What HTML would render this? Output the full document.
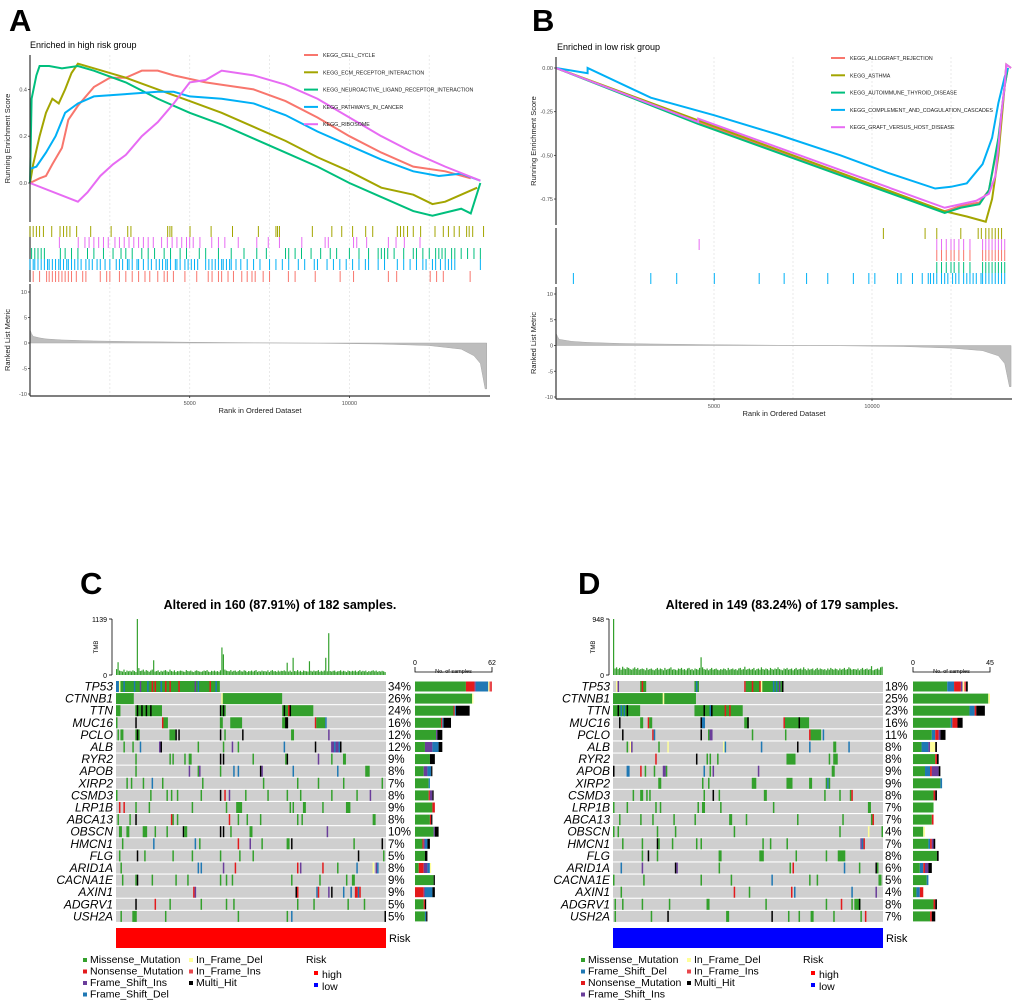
<!DOCTYPE html>
<html><head><meta charset="utf-8">
<style>
html,body{margin:0;padding:0;background:#fff;}
svg{display:block;font-family:"Liberation Sans",Arial,sans-serif;}
</style></head>
<body>
<svg id="fig" width="1020" height="1008" viewBox="0 0 1020 1008">
<rect width="1020" height="1008" fill="#fff"/>
<text x="9" y="31" font-size="31" font-weight="bold">A</text>
<text x="532" y="31" font-size="31" font-weight="bold">B</text>
<text x="80" y="594" font-size="31" font-weight="bold">C</text>
<text x="578" y="594" font-size="31" font-weight="bold">D</text>
<text x="30" y="48" font-size="9">Enriched in high risk group</text>
<text x="557" y="50" font-size="9">Enriched in low risk group</text>
<text x="280" y="609" font-size="12.5" font-weight="bold" text-anchor="middle">Altered in 160 (87.91%) of 182 samples.</text>
<text x="782" y="609" font-size="12.5" font-weight="bold" text-anchor="middle">Altered in 149 (83.24%) of 179 samples.</text>
<g id="root"></g>
</svg>
<script>
// ---------- GSEA data (ranks in thousands) ----------
const aNames=["KEGG_CELL_CYCLE","KEGG_ECM_RECEPTOR_INTERACTION","KEGG_NEUROACTIVE_LIGAND_RECEPTOR_INTERACTION","KEGG_PATHWAYS_IN_CANCER","KEGG_RIBOSOME"];
const aColors=["#F8766D","#A3A500","#00BF7D","#00B0F6","#E76BF3"];
const aRed=[[0,0],[0.3,0.02],[0.5,0.03],[0.7,0.08],[1.0,0.15],[1.2,0.27],[1.5,0.33],[2.0,0.41],[2.5,0.45],[3.0,0.45],[3.5,0.48],[4.0,0.48],[4.5,0.46],[5.5,0.43],[6.0,0.42],[7.0,0.40],[8.0,0.35],[9.0,0.28],[10.0,0.20],[11.0,0.13],[12.0,0.07],[13.0,0.05],[13.8,0.02]];
const aOlive=[[0,0],[0.1,0.08],[0.3,0.2],[0.5,0.3],[0.7,0.36],[0.9,0.34],[1.1,0.4],[1.3,0.47],[1.5,0.51],[2.0,0.49],[3.0,0.45],[4.0,0.40],[5.0,0.35],[6.0,0.30],[7.0,0.24],[8.0,0.18],[9.0,0.11],[10.0,0.05],[11.0,-0.02],[12.0,-0.05],[12.6,-0.09],[13.0,-0.08],[13.5,-0.05],[14.0,-0.02]];
const aGreen=[[0,0],[0.05,0.36],[0.2,0.46],[0.3,0.5],[0.6,0.5],[1.0,0.49],[1.5,0.5],[2.0,0.48],[3.0,0.43],[4.0,0.36],[5.0,0.3],[6.0,0.25],[7.0,0.19],[8.0,0.13],[9.0,0.07],[10.0,0.0],[11.0,-0.06],[12.0,-0.12],[12.6,-0.14],[13.5,-0.11],[13.8,-0.13],[14.1,0.0]];
const aBlue=[[0,0.06],[0.2,0.07],[0.5,0.13],[0.8,0.2],[1.1,0.3],[1.5,0.34],[2.0,0.37],[3.0,0.38],[4.0,0.39],[4.5,0.39],[5.0,0.37],[6.0,0.36],[7.0,0.34],[8.0,0.29],[9.0,0.22],[10.0,0.16],[11.0,0.1],[12.0,0.05],[12.8,0.03],[13.5,0.04],[14.1,0.01]];
const aMag=[[0,0],[1.5,-0.08],[1.8,-0.04],[2.2,0.03],[2.6,0.08],[3.0,0.12],[3.5,0.2],[4.0,0.26],[4.5,0.34],[5.0,0.43],[5.5,0.44],[6.0,0.48],[7.0,0.46],[8.0,0.42],[9.0,0.36],[10.0,0.28],[11.0,0.2],[12.0,0.13],[13.0,0.07],[14.1,0.01]];
const aHitOlive=[0,0.1,0.2,0.3,0.42,0.68,0.94,1.05,1.15,1.25,1.46,1.9,2.54,3.06,3.16,4.31,4.38,4.44,5.01,5.67,6.34,7.15,7.7,7.75,7.81,8.84,9.45,9.76,10.1,10.51,10.73,11.5,11.6,11.7,11.82,12.0,12.23,12.68,12.94,13.1,13.28,13.44,13.67,13.75,13.86,14.2];
const aHitMag=[0.92,1.51,1.72,1.85,2.0,2.15,2.3,2.45,2.66,2.8,2.95,3.1,3.25,3.4,3.55,3.7,3.86,4.12,4.3,4.45,4.6,4.75,4.9,5.0,5.11,5.32,5.69,5.9,6.1,6.52,7.1,7.46,7.81,8.51,9.24,9.34,10.13,10.23,10.54,11.22,11.46,11.72,12.21];
const aHitGreen=[0.05,0.15,0.25,0.35,0.45,0.95,1.1,1.3,1.5,1.8,2.0,2.3,2.6,2.85,3.0,3.2,3.5,3.7,3.9,4.2,4.4,4.7,4.9,5.3,5.5,5.9,6.3,6.7,7.1,7.4,8.0,8.1,8.3,8.5,8.8,9.1,9.4,9.6,10.0,10.3,10.6,10.9,11.0,11.1,11.2,11.4,11.7,12.0,12.1,12.3,12.5,12.7,12.8,12.9,13.0,13.2,13.3,13.5,13.7,13.9,14.1];
const aHitBlue=[0.0,0.1,0.15,0.25,0.35,0.45,0.55,0.6,0.7,0.8,0.9,0.95,1.05,1.15,1.2,1.3,1.4,1.5,1.6,1.75,1.85,1.95,2.1,2.2,2.35,2.5,2.7,2.8,2.9,3.05,3.1,3.2,3.35,3.4,3.55,3.7,3.8,3.95,4.05,4.15,4.25,4.3,4.4,4.55,4.6,4.7,4.85,4.95,5.05,5.15,5.25,5.5,5.6,5.7,5.8,5.9,6.0,6.05,6.15,6.25,6.3,6.45,6.6,6.8,7.0,7.2,7.5,7.7,7.9,8.1,8.4,8.6,8.9,9.0,9.3,9.5,9.7,9.9,10.1,10.3,10.5,10.6,10.9,11.1,11.5,11.7,11.9,12.1,12.3,12.4,12.6,12.7,12.85,13.0,13.1,13.2,13.3,14.1];
const aHitRed=[0.1,0.3,0.52,0.6,0.7,0.8,0.9,1.0,1.1,1.2,1.3,1.45,1.65,1.75,2.2,2.4,2.5,2.8,3.0,3.2,3.4,3.6,3.75,4.0,4.2,4.3,4.49,4.85,5.22,5.58,5.7,5.9,6.0,6.2,6.37,6.63,6.8,6.95,7.05,7.3,7.5,8.09,8.3,8.93,9.71,10.13,11.22,11.48,12.53,12.73,12.94,13.78];
const metricRanksA=[0,0.05,0.1,0.3,0.5,1,2,3,5,7,9,11,12.5,13.5,13.9,14.1,14.25,14.3];
const metricValsA=[2.6,1.8,1.3,1.0,0.8,0.6,0.4,0.3,0.15,0.05,-0.05,-0.2,-0.5,-1.2,-2.5,-4,-9,-9];

const bNames=["KEGG_ALLOGRAFT_REJECTION","KEGG_ASTHMA","KEGG_AUTOIMMUNE_THYROID_DISEASE","KEGG_COMPLEMENT_AND_COAGULATION_CASCADES","KEGG_GRAFT_VERSUS_HOST_DISEASE"];
const bRed=[[0,0],[4.5,-0.31],[12.3,-0.82],[12.8,-0.79],[13.4,-0.77],[13.7,-0.7],[14.0,-0.42],[14.2,-0.1],[14.3,0.0]];
const bOlive=[[0,0],[12.3,-0.82],[13.0,-0.85],[13.6,-0.88],[13.8,-0.75],[14.0,-0.5],[14.2,-0.1],[14.25,0.02],[14.4,0.0]];
const bGreen=[[0,0],[4.5,-0.32],[12.3,-0.83],[12.8,-0.8],[13.4,-0.78],[13.7,-0.7],[14.0,-0.4],[14.2,-0.1],[14.3,0.0]];
const bBlue=[[0,0],[1.0,-0.03],[1.0,0.0],[3.0,-0.17],[5.0,-0.27],[7.0,-0.38],[9.0,-0.5],[10.5,-0.6],[12.0,-0.69],[12.5,-0.68],[13.0,-0.66],[13.5,-0.55],[13.8,-0.4],[14.0,-0.2],[14.2,-0.05],[14.3,0.0]];
const bMag=[[0,0],[4.5,-0.31],[4.5,-0.29],[12.3,-0.8],[12.8,-0.78],[13.3,-0.76],[13.7,-0.72],[13.9,-0.62],[14.0,-0.45],[14.1,-0.25],[14.2,-0.1],[14.25,0.02],[14.4,0.0]];
const bHitOlive=[10.36,11.68,12.05,12.81,13.36,13.46,13.6,13.7,13.8,13.9,14.0,14.1];
const bHitMag=[4.53,12.05,12.2,12.35,12.5,12.6,12.75,12.9,13.1,13.5,13.6,13.7,13.8,13.9,14.0,14.1,14.2];
const bHitRed=[12.05,12.2,12.35,12.5,12.6,12.75,12.9,13.1,13.5,13.6,13.7,13.8,13.9,14.0,14.1,14.2];
const bHitGreen=[12.05,12.2,12.35,12.5,12.6,12.75,12.9,13.1,13.5,13.6,13.7,13.8,13.9,14.0,14.1,14.2];
const bHitBlue=[0.55,3.0,3.82,5.01,6.43,7.22,7.93,8.6,9.41,9.9,10.09,10.81,10.92,11.28,11.59,11.78,11.85,11.95,12.05,12.2,12.3,12.4,12.55,12.65,12.75,12.9,13.0,13.1,13.2,13.3,13.45,13.5,13.6,13.7,13.8,13.9,14.0,14.1,14.2];
const metricRanksB=[0,0.05,0.1,0.3,0.5,1,2,3,5,7,9,11,12.5,13.5,14.0,14.2,14.35,14.4];
const metricValsB=[2.4,1.7,1.2,1.0,0.8,0.6,0.4,0.3,0.15,0.05,-0.05,-0.2,-0.5,-1.0,-2.0,-3.5,-8,-8];

// ---------- Oncoplot data ----------
const genes=["TP53","CTNNB1","TTN","MUC16","PCLO","ALB","RYR2","APOB","XIRP2","CSMD3","LRP1B","ABCA13","OBSCN","HMCN1","FLG","ARID1A","CACNA1E","AXIN1","ADGRV1","USH2A"];
const pctC=["34%","26%","24%","16%","12%","12%","9%","8%","7%","8%","9%","8%","10%","7%","5%","8%","9%","9%","5%","5%"];
const pctD=["18%","25%","23%","16%","11%","8%","8%","9%","9%","8%","7%","7%","4%","7%","8%","6%","5%","4%","8%","7%"];
const tmbC=[120,260,90,80,70,110,60,90,75,85,70,95,80,60,1139,140,80,90,110,70,100,85,65,90,110,300,70,80,95,60,85,70,90,100,75,65,110,80,70,95,60,80,75,90,85,70,65,100,80,75,90,70,60,85,95,80,70,65,75,90,80,100,70,60,85,75,90,70,80,65,95,560,420,110,90,80,75,100,70,85,90,65,80,100,75,70,95,85,60,80,75,90,70,85,100,65,80,70,90,75,80,70,95,60,85,100,75,80,65,90,70,85,80,95,75,250,70,90,65,350,80,75,100,70,85,60,90,80,75,70,280,85,70,90,75,80,100,65,85,70,90,350,75,850,80,70,85,90,65,75,80,95,70,85,75,60,90,80,70,85,75,90,65,80,100,70,85,75,90,60,80,70,85,95,75,90,65,80,70,85,75,60];
const tmbD=[948,110,130,100,120,90,140,110,100,130,120,100,90,110,130,100,120,90,100,110,100,80,120,90,100,110,90,80,100,120,90,110,100,80,120,90,100,110,130,90,100,90,80,110,100,120,90,100,80,110,120,90,100,80,110,100,90,120,300,130,100,90,110,80,100,120,90,100,110,90,80,100,90,110,100,80,120,90,100,110,90,100,80,110,120,90,100,140,90,100,110,90,100,120,80,100,110,90,130,100,90,110,100,80,120,100,90,110,100,130,100,90,80,110,100,120,90,100,110,80,100,120,90,100,110,90,130,100,80,110,90,100,110,80,100,120,90,110,100,90,100,80,110,90,120,100,90,110,100,80,110,90,100,120,90,100,130,110,90,100,100,90,110,80,100,120,90,100,110,90,100,150,80,90,100,110,90,130,140];
const evC=[
[[0,2,'d'],[2,1,'f'],[3,67,'m'],[5,1,'d'],[12,1,'d'],[16,1,'i'],[21,1,'d'],[24,1,'n'],[26,1,'n'],[30,1,'d'],[33,1,'n'],[36,1,'n'],[42,1,'n'],[53,1,'i'],[55,1,'d'],[63,1,'n'],[67,1,'d']],
[[0,12,'m'],[71,1,'f'],[72,40,'m']],
[[0,3,'m'],[13,18,'m'],[14,1,'x'],[17,1,'x'],[20,1,'x'],[23,1,'x'],[70,1,'x'],[71,3,'m'],[72,1,'x'],[112,21,'m'],[113,1,'x'],[116,1,'n'],[117,1,'x']],
[[0,1,'m'],[13,1,'x'],[31,1,'n'],[32,3,'m'],[70,2,'m'],[77,8,'m'],[112,4,'m'],[114,2,'x'],[134,1,'n'],[135,6,'m'],[141,1,'d']],
[[1,1,'m'],[3,2,'m'],[13,3,'m'],[14,1,'x'],[36,4,'m'],[40,1,'x'],[42,1,'x'],[70,1,'x'],[73,1,'m'],[85,1,'x'],[118,2,'m'],[143,1,'i']],
[[5,1,'m'],[11,1,'m'],[16,1,'d'],[29,1,'i'],[30,1,'x'],[55,1,'m'],[72,1,'m'],[78,1,'i'],[82,1,'m'],[113,1,'d'],[134,1,'x'],[145,2,'i'],[147,1,'d'],[148,2,'i'],[150,1,'d'],[151,1,'x']],
[[13,1,'m'],[36,1,'m'],[38,1,'m'],[46,1,'m'],[49,2,'m'],[70,1,'x'],[72,1,'x'],[92,1,'m'],[114,1,'m'],[115,1,'x'],[136,1,'i'],[145,1,'m'],[153,2,'m']],
[[13,1,'m'],[49,1,'i'],[55,1,'m'],[56,1,'i'],[70,1,'m'],[79,1,'d'],[82,1,'d'],[97,1,'x'],[98,1,'i'],[119,1,'d'],[149,1,'d'],[168,3,'m']],
[[7,1,'m'],[10,1,'m'],[18,1,'m'],[24,1,'d'],[31,1,'m'],[58,1,'m'],[99,1,'m'],[122,1,'m'],[136,1,'m'],[153,1,'m'],[179,1,'m']],
[[0,1,'m'],[23,1,'m'],[34,1,'m'],[37,1,'m'],[41,1,'m'],[57,1,'m'],[70,1,'x'],[73,1,'n'],[76,1,'i'],[87,1,'m'],[102,1,'m'],[115,1,'m'],[124,1,'m'],[145,1,'m'],[162,1,'m'],[171,1,'i']],
[[2,1,'n'],[5,1,'n'],[13,1,'m'],[22,1,'m'],[51,1,'m'],[74,1,'m'],[81,4,'m'],[117,1,'m'],[119,1,'m'],[126,2,'m'],[139,1,'m'],[155,3,'m']],
[[1,1,'m'],[9,1,'m'],[13,1,'x'],[37,1,'n'],[38,1,'m'],[41,1,'m'],[76,1,'n'],[82,1,'m'],[88,1,'m'],[97,1,'m'],[122,1,'m'],[125,1,'m'],[173,2,'m']],
[[2,2,'m'],[7,2,'m'],[18,3,'m'],[26,1,'m'],[34,1,'m'],[45,1,'x'],[46,2,'m'],[70,1,'x'],[72,1,'x'],[77,1,'m'],[90,2,'m'],[142,1,'i']],
[[4,1,'m'],[25,1,'d'],[53,1,'d'],[56,1,'m'],[82,1,'n'],[90,1,'i'],[98,1,'m'],[115,2,'m'],[118,1,'x'],[160,1,'m'],[179,1,'x']],
[[2,1,'m'],[14,1,'x'],[19,1,'m'],[38,1,'m'],[51,1,'m'],[70,1,'m'],[83,1,'m'],[92,1,'m'],[163,1,'x'],[180,1,'m']],
[[3,1,'m'],[55,1,'d'],[57,1,'d'],[72,1,'i'],[80,1,'n'],[122,1,'n'],[124,1,'i'],[139,1,'n'],[149,1,'m'],[162,1,'d'],[173,1,'f'],[175,1,'i'],[176,1,'d']],
[[4,1,'m'],[13,1,'m'],[14,1,'x'],[24,1,'m'],[40,1,'m'],[48,1,'m'],[70,1,'m'],[74,1,'m'],[78,1,'m'],[118,1,'m'],[137,1,'m'],[155,1,'m'],[159,2,'m']],
[[52,1,'n'],[53,1,'i'],[121,1,'x'],[122,1,'n'],[135,1,'d'],[136,1,'n'],[143,1,'i'],[145,1,'x'],[153,1,'d'],[158,1,'d'],[161,2,'n'],[163,1,'d'],[164,1,'n']],
[[13,1,'x'],[26,1,'n'],[36,1,'m'],[57,1,'m'],[74,1,'m'],[79,1,'m'],[122,1,'m'],[133,1,'m'],[156,1,'m'],[167,1,'m']],
[[3,1,'m'],[11,3,'m'],[33,1,'m'],[82,1,'m'],[115,1,'m'],[118,1,'d'],[181,1,'x']]
];
const evD=[
[[2,1,'f'],[3,1,'i'],[18,4,'m'],[19,1,'n'],[54,3,'m'],[55,1,'d'],[87,1,'n'],[88,10,'m'],[92,1,'n'],[97,1,'n'],[98,1,'f'],[99,14,'m'],[106,1,'d'],[108,1,'d'],[110,1,'i'],[112,1,'x']],
[[0,33,'m'],[33,1,'f'],[34,21,'m']],
[[0,18,'m'],[3,1,'x'],[5,1,'d'],[7,1,'d'],[9,1,'x'],[54,32,'m'],[60,1,'x'],[64,1,'d'],[65,1,'x'],[74,1,'n'],[77,1,'n']],
[[4,1,'x'],[18,2,'m'],[23,1,'n'],[24,2,'m'],[58,1,'x'],[59,2,'d'],[87,3,'m'],[89,1,'x'],[113,1,'n'],[114,16,'m'],[123,1,'x']],
[[6,1,'x'],[26,1,'n'],[27,1,'d'],[58,1,'x'],[63,1,'m'],[64,2,'i'],[92,1,'m'],[114,1,'m'],[130,1,'n'],[131,7,'m'],[139,1,'d']],
[[9,1,'m'],[11,1,'f'],[12,1,'i'],[30,1,'m'],[36,1,'f'],[73,1,'f'],[74,1,'d'],[98,1,'d'],[122,1,'x'],[130,1,'d'],[146,2,'m'],[156,1,'d']],
[[28,1,'n'],[55,1,'x'],[62,1,'m'],[64,1,'m'],[69,1,'m'],[115,6,'m'],[143,1,'m'],[146,3,'m']],
[[0,1,'x'],[9,2,'d'],[18,1,'n'],[21,1,'m'],[27,1,'m'],[33,2,'i'],[35,1,'m'],[60,1,'d'],[64,1,'m'],[66,1,'i'],[96,1,'i'],[145,2,'m']],
[[30,2,'m'],[59,1,'m'],[63,1,'m'],[92,3,'m'],[115,4,'m'],[130,2,'m'],[141,1,'m'],[142,1,'d'],[143,1,'m']],
[[13,1,'m'],[18,2,'m'],[22,1,'m'],[24,1,'m'],[60,1,'m'],[66,1,'x'],[70,1,'m'],[100,2,'m'],[140,1,'m'],[150,1,'m'],[157,1,'m'],[158,1,'n']],
[[0,1,'m'],[9,1,'m'],[28,1,'m'],[31,1,'m'],[56,1,'m'],[59,2,'m'],[71,1,'m'],[106,1,'m'],[169,2,'m']],
[[4,1,'m'],[18,1,'m'],[26,1,'m'],[40,1,'m'],[54,1,'m'],[77,2,'m'],[88,1,'m'],[122,1,'m'],[152,1,'m'],[171,1,'m'],[172,1,'n']],
[[0,1,'m'],[3,1,'m'],[29,1,'m'],[41,1,'m'],[80,1,'m'],[150,1,'m'],[169,1,'f'],[178,1,'m']],
[[6,1,'m'],[19,1,'m'],[29,1,'x'],[30,1,'m'],[39,1,'m'],[55,1,'m'],[58,1,'m'],[99,1,'m'],[104,1,'m'],[115,1,'m'],[164,1,'i'],[165,1,'d'],[166,1,'n']],
[[19,1,'m'],[23,1,'x'],[29,1,'m'],[70,2,'m'],[97,3,'m'],[121,1,'m'],[141,1,'m'],[149,5,'m']],
[[5,1,'d'],[19,1,'i'],[41,1,'x'],[42,1,'i'],[70,1,'m'],[117,1,'m'],[119,1,'n'],[153,1,'d'],[163,1,'m'],[174,1,'x'],[175,1,'m']],
[[0,1,'m'],[20,1,'m'],[58,1,'m'],[78,1,'m'],[105,1,'d'],[130,1,'m'],[135,1,'m'],[176,2,'m']],
[[5,1,'m'],[80,1,'n'],[90,1,'m'],[118,1,'n'],[120,1,'d'],[158,1,'d'],[174,1,'i']],
[[1,1,'m'],[6,1,'m'],[19,1,'m'],[37,1,'m'],[62,2,'m'],[101,1,'m'],[141,1,'m'],[151,1,'n'],[158,1,'m'],[160,4,'m'],[163,1,'x']],
[[1,1,'m'],[25,1,'m'],[36,1,'x'],[75,2,'m'],[105,1,'x'],[116,1,'m'],[123,1,'m'],[131,2,'m'],[146,1,'m'],[164,1,'m'],[167,1,'n']]
];
const orderC=['m','n','i','d','f','j','x'];
const orderD=['m','d','n','i','f','j','x'];
const sideC=[[41,7,1,10,1,2,0],[46,0,0,0,1,0,0],[31,1,0,1,0,0,11],[21,1,0,1,0,0,6],[17,0,1,0,0,0,4],[8,0,6,5,0,0,3],[12,0,0,0,0,0,4],[7,0,3,3,0,0,1],[11,0,0,1,0,0,0],[11,1,2,0,0,0,1],[14,2,0,0,0,0,0],[12,1,0,0,0,0,1],[15,0,1,0,0,0,3],[6,1,1,2,0,0,2],[8,0,0,0,0,0,2],[3,4,3,2,1,0,0],[15,0,0,0,0,0,1],[0,7,1,6,0,0,2],[7,1,0,0,0,0,1],[8,0,0,1,0,0,1]];
const sideD=[[20,4,4,1,1,1,1],[44,0,0,0,1,0,0],[33,3,1,0,0,0,5],[22,1,3,0,0,0,3],[11,2,2,1,0,0,3],[5,4,0,1,3,0,1],[13,0,1,0,0,0,1],[7,3,1,4,0,0,1],[16,1,0,0,0,0,0],[12,0,1,0,0,0,1],[12,0,0,0,0,0,0],[11,0,1,0,0,0,0],[6,0,0,0,1,0,0],[9,1,1,1,0,0,1],[14,0,0,0,0,0,1],[4,2,1,2,0,0,2],[8,1,0,0,0,0,0],[2,2,2,0,0,0,0],[12,0,1,0,0,0,1],[10,0,1,0,0,0,2]];
const legC=[["m","Missense_Mutation"],["n","Nonsense_Mutation"],["i","Frame_Shift_Ins"],["d","Frame_Shift_Del"],["f","In_Frame_Del"],["j","In_Frame_Ins"],["x","Multi_Hit"]];
const legD=[["m","Missense_Mutation"],["d","Frame_Shift_Del"],["n","Nonsense_Mutation"],["i","Frame_Shift_Ins"],["f","In_Frame_Del"],["j","In_Frame_Ins"],["x","Multi_Hit"]];
const mutCol={m:'#33a02c',n:'#e31a1c',i:'#6a3d9a',d:'#1f78b4',f:'#ffff99',j:'#e8474c',x:'#000000'};

// ---------- helpers ----------
const NS='http://www.w3.org/2000/svg';
const root=document.getElementById('root');
function el(tag,a,p){const e=document.createElementNS(NS,tag);for(const k in a)e.setAttribute(k,a[k]);(p||root).appendChild(e);return e;}
function txt(x,y,s,size,extra,p){const t=el('text',Object.assign({x:x,y:y,'font-size':size},extra||{}),p);t.textContent=s;return t;}

// ---------- GSEA panel ----------
function gsea(cfg){
  const g=el('g',{});
  
  
  const X=r=>cfg.x0+r*cfg.kx;
  const Y=v=>cfg.y0-v*cfg.ky;
  const M=v=>cfg.mc-v*cfg.mk;
  // grid
  cfg.grid.forEach(r=>{
    const l=el('line',{x1:X(r),x2:X(r),y1:cfg.top,y2:cfg.mBot,stroke:'#e4e4e4','stroke-width':0.8,'stroke-dasharray':'2,2'},g);
    
    
  });
  // ES curves
  cfg.series.forEach((s,i)=>{
    const p=el('polyline',{points:s.map(d=>X(d[0])+','+Y(d[1])).join(' '),fill:'none',stroke:cfg.colors[i],'stroke-width':2},g);
    
    
  });
  // axes
  el('line',{x1:cfg.x0,x2:cfg.x0,y1:cfg.top,y2:cfg.esBot,stroke:'#333','stroke-width':1.2},g);
  cfg.yt.forEach((v,i)=>{
    el('line',{x1:cfg.x0-2,x2:cfg.x0,y1:Y(v),y2:Y(v),stroke:'#333','stroke-width':0.8},g);
    const t=txt(cfg.x0-3,Y(v)+2,cfg.ytl[i],5.5,{'text-anchor':'end',fill:'#4d4d4d'},g);
    
    
  });
  // legend
  cfg.labels.forEach((n,i)=>{
    const ly=cfg.legY+i*17.3;
    el('line',{x1:cfg.legX,x2:cfg.legX+14,y1:ly,y2:ly,stroke:cfg.colors[i],'stroke-width':2},g);
    const t=txt(cfg.legX+19,ly+2,n,5.3,{fill:'#222'},g);
    
    
  });
  // hits
  el('line',{x1:cfg.x0,x2:cfg.x0,y1:cfg.hitTop[0],y2:cfg.hitTop[4]+11,stroke:'#333','stroke-width':1.2},g);
  cfg.hits.forEach((h,i)=>{
    h.forEach(r=>{
      const l=el('line',{x1:X(r),x2:X(r),y1:cfg.hitTop[i],y2:cfg.hitTop[i]+11,stroke:cfg.hitCols[i],'stroke-width':1},g);
      
      
    });
  });
  // metric
  let pts=[X(cfg.mr[0])+','+M(0)];
  cfg.mr.forEach((r,i)=>pts.push(X(r)+','+M(cfg.mv[i])));
  pts.push(X(cfg.mr[cfg.mr.length-1])+','+M(0));
  const area=el('polygon',{points:pts.join(' '),fill:'#bdbdbd',stroke:'#a8a8a8','stroke-width':0.5},g);
  
  
  el('line',{x1:cfg.x0,x2:cfg.x0,y1:cfg.mTop,y2:cfg.mBot,stroke:'#333','stroke-width':1.2},g);
  el('line',{x1:cfg.x0,x2:cfg.xEnd,y1:cfg.mBot,y2:cfg.mBot,stroke:'#333','stroke-width':1.2},g);
  [10,5,0,-5,-10].forEach(v=>{
    el('line',{x1:cfg.x0-2,x2:cfg.x0,y1:M(v),y2:M(v),stroke:'#333','stroke-width':0.8},g);
    txt(cfg.x0-3,M(v)+2,String(v),5.5,{'text-anchor':'end',fill:'#4d4d4d'},g);
  });
  [5,10].forEach(r=>{
    el('line',{x1:X(r),x2:X(r),y1:cfg.mBot,y2:cfg.mBot+2,stroke:'#333','stroke-width':0.8},g);
    const t=txt(X(r),cfg.mBot+9,String(r*1000),5.5,{'text-anchor':'middle',fill:'#4d4d4d'},g);
    
    
  });
  const xt=txt((cfg.x0+cfg.xEnd)/2,cfg.mBot+17,'Rank in Ordered Dataset',7.5,{'text-anchor':'middle',fill:'#222'},g);
  
  
  const yt1=txt(0,0,'Running Enrichment Score',7.5,{'text-anchor':'middle',fill:'#222',transform:'translate('+(cfg.x0-20)+','+((cfg.top+cfg.esBot)/2)+') rotate(-90)'},g);
  
  
  const yt2=txt(0,0,'Ranked List Metric',7.5,{'text-anchor':'middle',fill:'#222',transform:'translate('+(cfg.x0-20)+','+((cfg.mTop+cfg.mBot)/2)+') rotate(-90)'},g);
  
  
}
gsea({name:'gsea-panel-a',x0:30,xEnd:490,kx:31.94,y0:183,ky:234,top:55,esBot:222,mTop:284,mBot:396,mc:343,mk:5.1,
  grid:[2.5,5,7.5,10,12.5],series:[aRed,aOlive,aGreen,aBlue,aMag],colors:aColors,
  yt:[0,0.2,0.4],ytl:['0.0','0.2','0.4'],labels:aNames,legX:304,legY:55,
  hits:[aHitOlive,aHitMag,aHitGreen,aHitBlue,aHitRed],hitTop:[226,237,248,259,271],hitCols:['#A3A500','#E76BF3','#00BF7D','#00B0F6','#F8766D'],
  mr:metricRanksA,mv:metricValsA});
gsea({name:'gsea-panel-b',x0:556,xEnd:1012,kx:31.6,y0:68,ky:174.7,top:57,esBot:225,mTop:287,mBot:399,mc:345.5,mk:5.15,
  grid:[2.5,5,7.5,10,12.5],series:[bRed,bOlive,bGreen,bBlue,bMag],colors:aColors,
  yt:[0,-0.25,-0.5,-0.75],ytl:['0.00','-0.25','-0.50','-0.75'],labels:bNames,legX:831,legY:58,
  hits:[bHitOlive,bHitMag,bHitRed,bHitGreen,bHitBlue],hitTop:[228,239,250,262,273],hitCols:['#A3A500','#E76BF3','#F8766D','#00BF7D','#00B0F6'],
  mr:metricRanksB,mv:metricValsB});

// ---------- Oncoplot ----------
function onco(cfg){
  const g=el('g',{});
  
  
  const n=cfg.tmb.length, sw=270/n;
  const SX=s=>cfg.x0+s*sw;
  const TY=v=>675-v/cfg.tmbMax*56;
  // TMB axis
  el('line',{x1:cfg.x0-4,x2:cfg.x0-4,y1:619,y2:675,stroke:'#000','stroke-width':0.8},g);
  el('line',{x1:cfg.x0-7,x2:cfg.x0-4,y1:619,y2:619,stroke:'#000','stroke-width':0.8},g);
  el('line',{x1:cfg.x0-7,x2:cfg.x0-4,y1:675,y2:675,stroke:'#000','stroke-width':0.8},g);
  txt(cfg.x0-9,622,String(cfg.tmbMax),7,{'text-anchor':'end'},g);
  txt(cfg.x0-9,678,'0',7,{'text-anchor':'end'},g);
  txt(0,0,'TMB',6,{'text-anchor':'middle',transform:'translate('+(cfg.x0-18)+',647) rotate(-90)'},g);
  cfg.tmb.forEach((v,i)=>{
    const r=el('rect',{x:SX(i),y:TY(v),width:Math.max(sw-0.3,0.8),height:675-TY(v),fill:'#33a02c'},g);
    
    
  });
  // rows
  cfg.genes.forEach((gn,gi)=>{
    const y=681+gi*12.1;
    const bg=el('rect',{x:cfg.x0,y:y,width:270,height:11,fill:'#cfcfcf'},g);
    
    
    cfg.ev[gi].forEach(e=>{
      const r=el('rect',{x:SX(e[0]),y:y,width:Math.max(e[1]*sw,1.3),height:11,fill:mutCol[e[2]]},g);
      
      
    });
    const t=txt(cfg.x0-3,y+9.5,gn,12,{'text-anchor':'end','font-style':'italic'},g);
    
    
    const p=txt(cfg.x0+272,y+9.5,cfg.pct[gi],11.5,{},g);
    
    
    let cx=cfg.sx0;
    cfg.side[gi].forEach((c,ci)=>{
      if(!c)return;
      const w=c*cfg.sScale;
      const r=el('rect',{x:cx,y:y+0.5,width:w,height:10,fill:mutCol[cfg.order[ci]]},g);
      
      
      cx+=w;
    });
  });
  // side axis
  const sx1=cfg.sx0+cfg.sMax*cfg.sScale;
  el('polyline',{points:cfg.sx0+',667 '+cfg.sx0+',672 '+sx1+',672 '+sx1+',667',fill:'none',stroke:'#000','stroke-width':0.8},g);
  txt(cfg.sx0,665,'0',7,{'text-anchor':'middle'},g);
  txt(sx1,665,String(cfg.sMax),7,{'text-anchor':'middle'},g);
  txt((cfg.sx0+sx1)/2,673,'No. of samples',5.5,{'text-anchor':'middle'},g);
  // risk bar
  const rb=el('rect',{x:cfg.x0,y:928,width:270,height:20,fill:cfg.riskCol},g);
  
  
  txt(cfg.x0+273,942,'Risk',11,{},g);
  // legend
  cfg.leg.forEach((l,i)=>{
    const col=i<4?0:1, row=i<4?i:i-4;
    const lx=cfg.legX[col], ly=963+row*11.5;
    el('rect',{x:lx-7,y:ly-5,width:4,height:4,fill:mutCol[l[0]]},g);
    const t=txt(lx,ly,l[1],10.5,{},g);
    
    
  });
  txt(cfg.riskX,963,'Risk',10.5,{},g);
  el('rect',{x:cfg.riskX+8,y:971,width:4,height:4,fill:'#ff0000'},g);
  txt(cfg.riskX+16,978,'high',10.5,{},g);
  el('rect',{x:cfg.riskX+8,y:983,width:4,height:4,fill:'#0000ff'},g);
  txt(cfg.riskX+16,990,'low',10.5,{},g);
}
onco({name:'oncoplot-high-risk',x0:116,tmb:tmbC,tmbMax:1139,genes:genes,ev:evC,pct:pctC,side:sideC,order:orderC,sx0:415,sScale:77/62,sMax:62,riskCol:'#ff0000',leg:legC,legX:[90,196],riskX:306});
onco({name:'oncoplot-low-risk',x0:613,tmb:tmbD,tmbMax:948,genes:genes,ev:evD,pct:pctD,side:sideD,order:orderD,sx0:913,sScale:77/45,sMax:45,riskCol:'#0000ff',leg:legD,legX:[588,694],riskX:803});
</script>
</body></html>
